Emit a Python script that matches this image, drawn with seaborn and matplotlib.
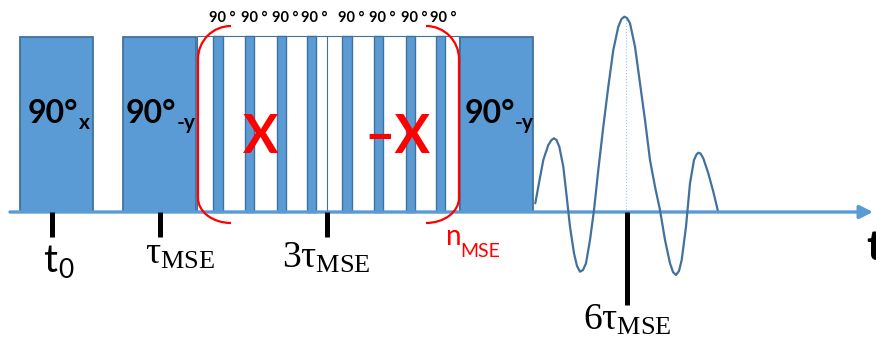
import matplotlib
matplotlib.use("Agg")
import matplotlib.pyplot as plt
from matplotlib.patches import Arc
import seaborn as sns
import pandas as pd

# ---------------- data (pixel-like units; y = height above time axis) -------------
big_pulse_left = [20, 123, 460]
big_pulse_width = 73
big_pulse_height = 175
big_pulse_main = ["90°", "90°", "90°"]
big_pulse_sub = ["x", "-y", "-y"]

thin_pulse_left = [213, 244.5, 276.5, 306.5, 342, 373.5, 405.5, 435.5]
thin_pulse_width = 9.5
thin_pulse_height = 176
thin_labels = ["90 °"] * 8
thin_label_x = [222, 254, 285, 314, 351, 382, 414, 443]

train_left, train_right = 197, 459
train_mid = 327

echo_t = [535.3, 538.3, 543.3, 548.3, 551.5, 554, 556.5, 559.3, 563.3, 566.7, 570, 574,
          577, 580, 583, 586, 590, 594, 598.3, 603.3, 608.3, 613.3, 618.3, 621.5,
          624.3, 627, 630, 635, 640, 645, 650, 655, 660, 665, 670, 673, 676, 679,
          681.7, 686, 690, 694, 696.5, 698.3, 700.5, 703.3, 708.3, 713.3, 717.7]
echo_amp = [8.7, 25.3, 52, 67, 72, 73.7, 72, 65.3, 45.3, 15.3, -14.7, -41.3,
            -54, -59.7, -58, -51.3, -28, 2, 42, 85.3, 125.3, 162, 185.3, 193,
            195.3, 194, 188.7, 165.3, 128.7, 92, 52, 25.3, 2, -28, -51.3, -60, -63, -59,
            -48, -14.7, 28.7, 52, 57.5, 59.3, 58.5, 53.7, 38.7, 20.3, 2]
echo_peak_t = 626
echo_peak_amp = 195

tick_x = [52, 160, 327, 627]
tick_len = [25, 25, 25, 93]

axis_start, axis_end = 10, 873

# ---------------- styling -------------
fill_c = "#5b9bd5"
edge_c = "#41719c"
red = "#ff0000"

sns.set_theme(style="white")
plt.rcParams["font.family"] = ["Lato", "DejaVu Sans"]
plt.rcParams["mathtext.fontset"] = "custom"
plt.rcParams["mathtext.rm"] = "Liberation Serif"
plt.rcParams["mathtext.it"] = "Liberation Serif"
plt.rcParams["mathtext.bf"] = "Liberation Serif:bold"

fig = plt.figure(figsize=(8.76, 3.40), dpi=100)
ax = fig.add_axes([0, 0, 1, 1])
ax.set_xlim(0, 876)
ax.set_ylim(-128, 212)
ax.axis("off")

# pulse train enclosure
ax.bar([train_left], [thin_pulse_height], width=train_right - train_left, align="edge",
       color="white", edgecolor=edge_c, linewidth=0.8, zorder=1)
ax.vlines([train_mid], 0, thin_pulse_height, color=edge_c, linewidth=0.8, zorder=2)

# thin 90 pulses
ax.bar(thin_pulse_left, [thin_pulse_height] * len(thin_pulse_left), width=thin_pulse_width,
       align="edge", color=fill_c, edgecolor=edge_c, linewidth=1.0, zorder=3)
for lx, lab in zip(thin_label_x, thin_labels):
    ax.text(lx, 190, lab, ha="center", va="baseline", fontsize=10.5, fontweight="bold",
            color="black")

# big pulses
ax.bar(big_pulse_left, [big_pulse_height] * 3, width=big_pulse_width, align="edge",
       color=fill_c, edgecolor=edge_c, linewidth=1.3, zorder=3)
main_off = [8, 3, 5]
sub_off = [59, 54, 55]
for lx, m, s, mo, so in zip(big_pulse_left, big_pulse_main, big_pulse_sub, main_off, sub_off):
    ax.text(lx + mo, 89, m, ha="left", va="baseline", fontsize=23, fontweight="bold",
            color="black", zorder=5)
    ax.text(lx + so, 83, s, ha="left", va="baseline", fontsize=15, fontweight="bold",
            color="black", zorder=5)

# time axis with arrow
ax.annotate("", xy=(axis_end, 0), xytext=(axis_start, 0),
            arrowprops=dict(arrowstyle="-|>", color=fill_c, lw=2.4, mutation_scale=20,
                            shrinkA=0, shrinkB=0), zorder=4)

# echo
echo = pd.DataFrame({"t": echo_t, "amp": echo_amp})
sns.lineplot(data=echo, x="t", y="amp", sort=False, color=edge_c, linewidth=1.6, ax=ax,
             zorder=4)
ax.vlines([echo_peak_t], 0, echo_peak_amp, color="#9dc3e6", linewidth=0.8,
          linestyles=":", zorder=3)

# ticks
for tx, tl in zip(tick_x, tick_len):
    ax.vlines(tx, -tl, 0, color="black", linewidth=3.6, zorder=5)

# red brackets
rw = 66
ax.add_patch(Arc((231, 153), rw, 66, theta1=90, theta2=180, color=red, lw=1.6, zorder=6))
ax.add_patch(Arc((231, 14), rw, 50, theta1=180, theta2=270, color=red, lw=1.6, zorder=6))
ax.vlines(198, 14, 153, color=red, linewidth=1.6, zorder=6)
ax.add_patch(Arc((426, 153), rw, 66, theta1=0, theta2=90, color=red, lw=1.6, zorder=6))
ax.add_patch(Arc((426, 14), rw, 50, theta1=270, theta2=360, color=red, lw=1.6, zorder=6))
ax.vlines(459, 14, 153, color=red, linewidth=1.6, zorder=6)

ax.text(261, 59, "X", ha="center", va="baseline", fontsize=38, fontweight="bold",
        color=red, zorder=6)
ax.text(364, 59, "–X", ha="left", va="baseline", fontsize=38, fontweight="bold",
        color=red, zorder=6)

# labels under ticks
ax.text(43, -60, "t", ha="left", va="baseline", fontsize=28, color="black")
ax.text(58, -66, "0", ha="left", va="baseline", fontsize=19, color="black")
ax.text(145, -52, r"$\tau_{\mathrm{MSE}}$", ha="left", va="baseline", fontsize=27,
        color="black")
ax.text(282, -56, r"$3\tau_{\mathrm{MSE}}$", ha="left", va="baseline", fontsize=27,
        color="black")
ax.text(583, -118, r"$6\tau_{\mathrm{MSE}}$", ha="left", va="baseline", fontsize=27,
        color="black")
ax.text(446, -33, "n", ha="left", va="baseline", fontsize=20, color=red)
ax.text(460, -45, "MSE", ha="left", va="baseline", fontsize=14, color=red)
ax.text(866, -48, "t", ha="left", va="baseline", fontsize=30, fontweight="bold",
        color="black")

fig.savefig("out.png", dpi=100)
